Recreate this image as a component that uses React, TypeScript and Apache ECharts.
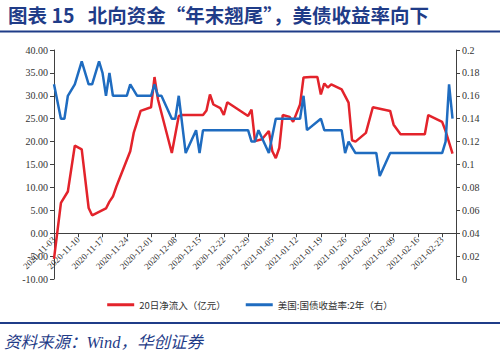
import React, { useEffect, useRef } from "react";
import * as echarts from "echarts";

// ---- data ----
const startDate = "2020-11-03";
const dayCount = 117; // through 2021-02-27
const tickEvery = 7;

const redDates = [
  "2020-11-03", "2020-11-05", "2020-11-07", "2020-11-09", "2020-11-11", "2020-11-13", "2020-11-14",
  "2020-11-18", "2020-11-19", "2020-11-20", "2020-11-21", "2020-11-25", "2020-11-26", "2020-11-28",
  "2020-12-01", "2020-12-02", "2020-12-03", "2020-12-07", "2020-12-09", "2020-12-10", "2020-12-16",
  "2020-12-17", "2020-12-18", "2020-12-19", "2020-12-21", "2020-12-22", "2020-12-23", "2020-12-29",
  "2020-12-30", "2020-12-31", "2021-01-02", "2021-01-04", "2021-01-05", "2021-01-06", "2021-01-07",
  "2021-01-08", "2021-01-10", "2021-01-11", "2021-01-13", "2021-01-14", "2021-01-16", "2021-01-18",
  "2021-01-19", "2021-01-20", "2021-01-21", "2021-01-22", "2021-01-25", "2021-01-27", "2021-01-28",
  "2021-01-29", "2021-02-01", "2021-02-03", "2021-02-08", "2021-02-09", "2021-02-11", "2021-02-18",
  "2021-02-19", "2021-02-23", "2021-02-24", "2021-02-26",
];
const redValues = [
  -5.6, 6.6, 9.1, 19.1, 18.3, 5.5, 3.9,
  5.4, 6.9, 8.0, 10.2, 17.9, 21.9, 26.7,
  27.5, 34.1, 29.2, 17.5, 25.6, 25.8, 25.8,
  26.8, 30.3, 28.1, 27.3, 25.8, 28.6, 25.6,
  27.0, 20.1, 20.5, 22.3, 17.9, 16.4, 18.6,
  25.8, 25.4, 24.3, 28.1, 34.0, 34.1, 34.1,
  30.3, 32.7, 31.8, 32.5, 31.4, 28.5, 20.3,
  20.0, 21.9, 27.5, 26.7, 23.7, 21.6, 21.6,
  25.8, 24.3, 22.3, 17.4,
];

const blueDates = [
  "2020-11-03", "2020-11-05", "2020-11-06", "2020-11-07", "2020-11-09", "2020-11-11", "2020-11-13",
  "2020-11-14", "2020-11-16", "2020-11-17", "2020-11-18", "2020-11-19", "2020-11-20", "2020-11-24",
  "2020-11-25", "2020-11-27", "2020-12-01", "2020-12-02", "2020-12-03", "2020-12-04", "2020-12-07",
  "2020-12-08", "2020-12-09", "2020-12-11", "2020-12-14", "2020-12-15", "2020-12-16", "2020-12-29",
  "2020-12-30", "2020-12-31", "2021-01-01", "2021-01-04", "2021-01-06", "2021-01-13", "2021-01-14",
  "2021-01-15", "2021-01-19", "2021-01-20", "2021-01-25", "2021-01-26", "2021-01-27", "2021-01-29",
  "2021-02-04", "2021-02-05", "2021-02-08", "2021-02-23", "2021-02-24", "2021-02-25", "2021-02-26",
];
const blueValues = [
  0.17, 0.14, 0.14, 0.16, 0.17, 0.19, 0.17,
  0.17, 0.19, 0.18, 0.16, 0.18, 0.16, 0.16,
  0.17, 0.16, 0.16, 0.17, 0.16, 0.16, 0.14,
  0.14, 0.16, 0.11, 0.13, 0.11, 0.13, 0.13,
  0.12, 0.12, 0.13, 0.11, 0.14, 0.14, 0.16,
  0.13, 0.14, 0.13, 0.13, 0.11, 0.12, 0.11,
  0.11, 0.09, 0.11, 0.11, 0.12, 0.17, 0.14,
];

const redName = "20日净流入（亿元）";
const blueName = "美国:国债收益率:2年（右）";
const titleText = "图表 15   北向资金“年末翘尾”，美债收益率向下";
const sourceText = "资料来源：Wind，华创证券";

function buildCategories(start: string, n: number): string[] {
  const out: string[] = [];
  const [y, m, d] = start.split("-").map(Number);
  for (let i = 0; i < n; i++) {
    const dt = new Date(Date.UTC(y, m - 1, d + i));
    const mm = String(dt.getUTCMonth() + 1).padStart(2, "0");
    const dd = String(dt.getUTCDate()).padStart(2, "0");
    out.push(`${dt.getUTCFullYear()}-${mm}-${dd}`);
  }
  return out;
}

const categories = buildCategories(startDate, dayCount);

const NAVY = "#1F3C88";
const RED = "#E3232B";
const BLUE = "#1F6CC0";
const AXIS = "#404040";
const SERIF = "'Liberation Serif', 'Noto Sans CJK SC', serif";
const CJK = "'Noto Sans CJK SC', sans-serif";

const GRID_TOP = 50;
const GRID_BOTTOM = 75;
const CHART_H = 354;

export default function App() {
  const ref = useRef<HTMLDivElement>(null);
  useEffect(() => {
    if (!ref.current) return;
    const chart = echarts.init(ref.current, undefined, { renderer: "svg" });
    const gridH = CHART_H - GRID_TOP - GRID_BOTTOM;
    const zeroShift = (gridH * 10) / 50; // distance from grid bottom (-10) up to 0
    chart.setOption({
      animation: false,
      backgroundColor: "#ffffff",
      title: {
        text: titleText,
        left: 3,
        top: 0,
        textStyle: { fontSize: 19.5, fontWeight: "bold", color: NAVY, fontFamily: CJK },
      },
      graphic: [
        { type: "line", shape: { x1: 0, y1: 31.5, x2: 500, y2: 31.5 }, style: { stroke: NAVY, lineWidth: 2 } },
        { type: "line", shape: { x1: 0, y1: 323, x2: 500, y2: 323 }, style: { stroke: NAVY, lineWidth: 2 } },
        {
          type: "text",
          x: 4,
          y: 334,
          style: {
            text: sourceText,
            fill: NAVY,
            font: `italic 16.5px 'Liberation Serif', 'Noto Sans CJK SC'`,
          },
        },
      ],
      legend: {
        top: 295,
        left: "center",
        icon: "rect",
        itemWidth: 27,
        itemHeight: 3,
        itemGap: 20,
        textStyle: { fontSize: 9.5, color: "#333", fontFamily: CJK },
        data: [redName, blueName],
      },
      grid: { left: 54, right: 44, top: GRID_TOP, bottom: GRID_BOTTOM, containLabel: false },
      xAxis: {
        type: "category",
        data: categories,
        boundaryGap: false,
        offset: -zeroShift,
        axisLine: { onZero: false, lineStyle: { color: AXIS, width: 1 } },
        axisTick: { show: true, interval: tickEvery - 1, length: 4, lineStyle: { color: AXIS } },
        axisLabel: {
          interval: tickEvery - 1,
          rotate: 45,
          fontSize: 9,
          color: "#333",
          fontFamily: SERIF,
          margin: 5,
        },
        splitLine: { show: false },
      },
      yAxis: [
        {
          type: "value",
          min: -10,
          max: 40,
          interval: 5,
          axisLine: { show: true, lineStyle: { color: AXIS } },
          axisTick: { show: true, length: 4, lineStyle: { color: AXIS } },
          axisLabel: {
            formatter: (v: number) => v.toFixed(2),
            fontSize: 10,
            color: "#333",
            fontFamily: SERIF,
            margin: 6,
          },
          splitLine: { show: false },
        },
        {
          type: "value",
          min: 0,
          max: 0.2,
          interval: 0.02,
          position: "right",
          axisLine: { show: true, lineStyle: { color: AXIS } },
          axisTick: { show: true, length: 4, lineStyle: { color: AXIS } },
          axisLabel: { fontSize: 10, color: "#333", fontFamily: SERIF, margin: 6 },
          splitLine: { show: false },
        },
      ],
      series: [
        {
          name: redName,
          type: "line",
          yAxisIndex: 0,
          showSymbol: false,
          symbol: "none",
          lineStyle: { color: RED, width: 2.5 },
          itemStyle: { color: RED },
          data: redDates.map((d, i) => [d, redValues[i]]),
        },
        {
          name: blueName,
          type: "line",
          yAxisIndex: 1,
          showSymbol: false,
          symbol: "none",
          lineStyle: { color: BLUE, width: 2.5 },
          itemStyle: { color: BLUE },
          data: blueDates.map((d, i) => [d, blueValues[i]]),
        },
      ],
    });
    return () => chart.dispose();
  }, []);
  return (
    <div
      ref={ref}
      style={{ position: "absolute", left: 0, top: 0, width: 500, height: 354, background: "#fff" }}
    />
  );
}
